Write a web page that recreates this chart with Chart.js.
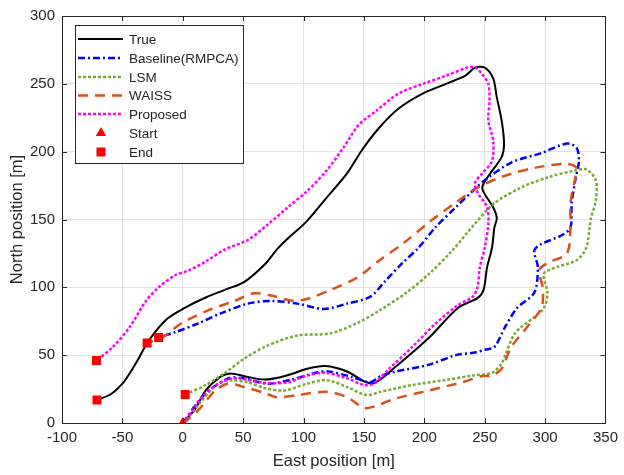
<!DOCTYPE html>
<html>
<head>
<meta charset="utf-8">
<script src="https://cdn.jsdelivr.net/npm/chart.js@4.4.1/dist/chart.umd.min.js"></script>
<style>
  body { margin: 0; background: #fff; }
  #wrap { width: 624px; height: 475px; }
</style>
</head>
<body>
<div id="wrap"><canvas id="grafico" width="624" height="475"></canvas></div>
<script>
// trajectories (East [m], North [m])
const trueX = [0, 10, 19, 32, 40, 51, 68, 86, 103, 118, 136, 152, 160, 177, 204, 228, 244, 249, 252, 256, 258, 260, 257, 248, 253, 264, 266, 264, 260, 257, 250, 242, 234, 218, 199, 179, 163, 149, 136, 119, 103, 87, 78, 68, 51, 37.5, 19, 2, -14, -28, -36, -43, -50, -60, -71];
const trueY = [0, 10, 24, 34.5, 36.5, 34.5, 32, 35, 40, 42, 38, 30, 30, 42, 63, 85, 92, 98, 115, 129, 144, 151, 159, 173, 182, 196, 206, 223, 240, 254, 262, 262, 256, 250, 243, 232, 218, 202, 184, 166, 149, 136, 128, 117, 104, 99, 92.5, 85, 76, 61, 48.5, 38, 29, 21, 17];

const baseX = [0, 18, 38, 50, 70, 90, 110, 120, 140, 155, 165, 177, 204, 226, 242, 250, 258, 267, 277, 291, 294, 291, 297, 313, 321, 322, 325, 328, 326, 318, 297, 272, 250, 240, 226, 209, 195, 182, 168, 155, 136, 117, 95, 73, 54, 32, 13, -6, -20];
const baseY = [0, 21, 33, 33, 29, 32, 37, 38, 34, 30, 35, 38, 43, 50, 52, 54, 56, 71, 85, 96, 115, 127, 132, 138, 144, 162, 179, 193, 203, 206, 199, 192, 179, 171, 159, 144, 129, 118, 105, 93, 88, 84, 88, 90, 88, 81, 73.5, 67, 63];

const lsmX = [0, 6, 15, 29, 40, 54, 68, 84, 103, 119, 136, 152, 163, 190, 217, 240, 256, 264, 275, 291, 299, 302, 299, 310, 326, 334, 338, 342, 342, 334, 324, 302, 280, 258, 242, 223, 204, 185, 163, 144, 122, 95, 70, 51, 35, 19, 2];
const lsmY = [0, 6, 15.6, 29, 31.5, 30, 25.7, 24, 29, 31.6, 26.5, 20.6, 22.8, 28, 31.6, 35, 37, 44, 66, 78, 85, 96, 110, 115, 120, 129, 151, 164, 179, 187, 186, 181, 173.5, 162, 147, 127, 110, 96, 83, 73.5, 66, 64.5, 57, 47.5, 37, 28, 21];

const waissX = [0, 2, 13, 27, 37.5, 51, 68, 78, 95, 119, 136, 150, 158, 176, 204, 231, 248, 256, 264, 272, 285, 297, 298, 295, 302, 318, 321, 321, 325, 326, 318, 291, 266, 244, 226, 204, 182, 163, 144, 122, 105, 92, 73, 59, 43, 21, -1, -17, -29.5];
const waissY = [0, 1, 9.6, 24, 29, 26.5, 22, 19, 20.6, 23, 19, 11, 12, 18, 24, 30, 34.6, 35, 40, 56, 70.6, 85, 100, 112.5, 118, 125, 144, 162, 181, 188, 191, 188, 182, 173.5, 162.5, 148, 132, 120, 107, 98, 92, 90, 94, 95.6, 90, 83, 73.5, 63, 59];

const propX = [0, 2, 19, 35, 46, 68, 87, 103, 118, 136, 150, 158, 171, 190, 209, 228, 240, 244, 246, 250, 253, 252, 244, 242, 248, 256, 257, 253, 254, 253, 248, 242, 236, 218, 199, 179, 160, 146, 133, 119, 103, 87, 70, 54, 35, 19, 5, -6, -20, -30.5, -44, -58, -71.5];
const propY = [0, 2, 22, 31.5, 33, 29.5, 30, 35, 37, 33, 28, 29, 40, 56, 73, 87, 93, 100, 115, 129, 147, 159, 170, 177, 184, 193, 208, 223, 238, 250, 257, 262, 262, 256, 250, 243, 230, 220, 203, 186, 171, 159, 146, 135, 128, 119, 112.5, 109, 100, 90, 70.6, 56, 46];

const startX = [0];
const startY = [0];
const endX = [-71, -20, 2, -29.5, -71.5];
const endY = [17, 63, 21, 59, 46];

const xTicks = [-100, -50, 0, 50, 100, 150, 200, 250, 300, 350];
const yTicks = [0, 50, 100, 150, 200, 250, 300];

const FONT = '"Liberation Sans", Arial, Helvetica, sans-serif';
const INK = '#262626';

function pts(xs, ys) {
    return xs.map((x, i) => ({ x: x, y: ys[i] }));
}

function linea(label, xs, ys, color, dash, width, order) {
    return {
        label: label,
        data: pts(xs, ys),
        borderColor: color,
        backgroundColor: color,
        borderDash: dash,
        borderWidth: width,
        pointRadius: 0,
        tension: 0.3,
        fill: false,
        showLine: true,
        order: order
    };
}

const datasets = [
    linea('True', trueX, trueY, '#000000', [], 2, 6),
    linea('Baseline(RMPCA)', baseX, baseY, '#0000FF', [7, 3, 2, 3], 2.5, 5),
    linea('LSM', lsmX, lsmY, '#77AC30', [3, 2], 2.5, 4),
    linea('WAISS', waissX, waissY, '#D95319', [10, 7], 2.5, 3),
    linea('Proposed', propX, propY, '#FF00FF', [3, 2], 2.5, 2),
    {
        label: 'Start', data: pts(startX, startY), showLine: false,
        pointStyle: 'triangle', pointRadius: 6, pointBackgroundColor: '#FF0000',
        pointBorderColor: '#FF0000', borderWidth: 0, order: 1
    },
    {
        label: 'End', data: pts(endX, endY), showLine: false,
        pointStyle: 'rect', pointRadius: 6.4, pointBackgroundColor: '#FF0000',
        pointBorderColor: '#FF0000', borderWidth: 0, order: 0
    }
];

// box, inward ticks and legend drawn like the matlab figure
const marco = {
    id: 'marco',
    afterDraw(chart) {
        const ctx = chart.ctx;
        const a = chart.chartArea;
        const sx = chart.scales.x, sy = chart.scales.y;
        ctx.save();
        ctx.strokeStyle = INK;
        ctx.lineWidth = 1;
        ctx.beginPath();
        xTicks.forEach(v => {
            const px = Math.round(sx.getPixelForValue(v)) + 0.5;
            ctx.moveTo(px, a.bottom); ctx.lineTo(px, a.bottom - 5);
            ctx.moveTo(px, a.top); ctx.lineTo(px, a.top + 5);
        });
        yTicks.forEach(v => {
            const py = Math.round(sy.getPixelForValue(v)) + 0.5;
            ctx.moveTo(a.left, py); ctx.lineTo(a.left + 5, py);
            ctx.moveTo(a.right, py); ctx.lineTo(a.right - 5, py);
        });
        ctx.stroke();
        ctx.strokeRect(Math.round(a.left) + 0.5, Math.round(a.top) + 0.5,
            Math.round(a.right - a.left), Math.round(a.bottom - a.top));

        // legend
        const bx = 75.5, by = 25.5, bw = 168, bh = 138;
        ctx.fillStyle = '#fff';
        ctx.fillRect(bx, by, bw, bh);
        ctx.strokeRect(bx, by, bw, bh);
        ctx.font = '13.5px ' + FONT;
        ctx.textBaseline = 'middle';
        const filas = [39, 58, 77, 95.5, 114, 133, 152];
        chart.data.datasets.forEach((d, i) => {
            const y = filas[i];
            if (d.showLine) {
                ctx.save();
                ctx.strokeStyle = d.borderColor;
                ctx.lineWidth = d.borderWidth;
                ctx.setLineDash(d.borderDash);
                ctx.beginPath();
                ctx.moveTo(78, y);
                ctx.lineTo(123, y);
                ctx.stroke();
                ctx.restore();
            } else {
                ctx.fillStyle = '#FF0000';
                ctx.beginPath();
                if (d.pointStyle === 'triangle') {
                    ctx.moveTo(101, y - 6);
                    ctx.lineTo(106.2, y + 3);
                    ctx.lineTo(95.8, y + 3);
                    ctx.closePath();
                    ctx.fill();
                } else {
                    ctx.fillRect(96.5, y - 4.5, 9, 9);
                }
            }
            ctx.fillStyle = INK;
            ctx.fillText(d.label, 129, y + 1);
        });
        ctx.restore();
    }
};

new Chart(document.getElementById('grafico').getContext('2d'), {
    type: 'scatter',
    data: { datasets: datasets },
    options: {
        responsive: false,
        animation: false,
        layout: { padding: { top: 15, right: 11, left: 0, bottom: 0 } },
        plugins: { legend: { display: false }, tooltip: { enabled: false } },
        scales: {
            x: {
                type: 'linear', min: -100, max: 350,
                afterFit: s => { s.height = 52; },
                afterBuildTicks: s => { s.ticks = xTicks.map(v => ({ value: v })); },
                grid: { color: '#e3e3e3', drawTicks: false },
                border: { display: false },
                ticks: { padding: 6, color: INK, font: { family: FONT, size: 15 } },
                title: {
                    display: true, text: 'East position [m]', color: INK,
                    font: { family: FONT, size: 16.5 }, padding: { top: 0, bottom: 4 }
                }
            },
            y: {
                type: 'linear', min: 0, max: 300,
                afterFit: s => { s.width = 62; },
                afterBuildTicks: s => { s.ticks = yTicks.map(v => ({ value: v })); },
                grid: { color: '#e3e3e3', drawTicks: false },
                border: { display: false },
                ticks: { padding: 7, color: INK, font: { family: FONT, size: 15 } },
                title: {
                    display: true, text: 'North position [m]', color: INK,
                    font: { family: FONT, size: 16.5 }, padding: { top: 8, bottom: 0 }
                }
            }
        }
    },
    plugins: [marco]
});
</script>
</body>
</html>
